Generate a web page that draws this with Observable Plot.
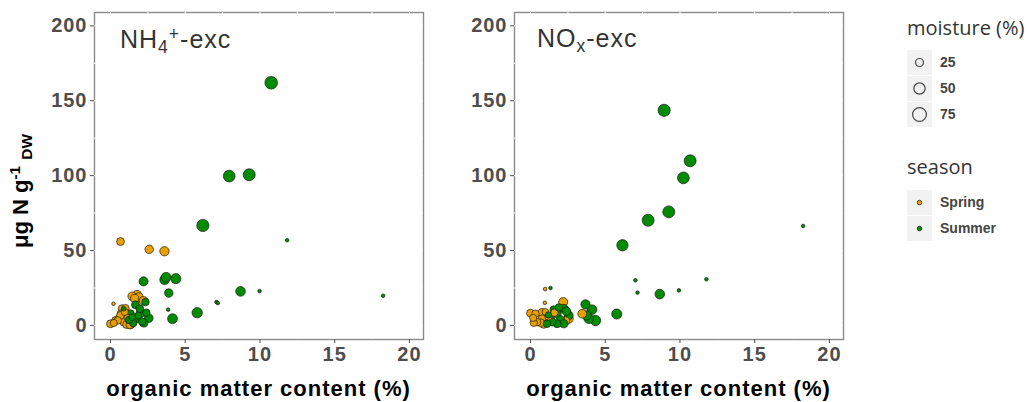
<!DOCTYPE html>
<html>
<head>
<meta charset="utf-8">
<script src="https://cdn.jsdelivr.net/npm/d3@7"></script>
<script src="https://cdn.jsdelivr.net/npm/@observablehq/plot@0.6"></script>
<style>
  html, body { margin: 0; padding: 0; background: #fff; }
  #wrap { position: relative; width: 1033px; height: 402px; overflow: hidden; }
  .abs { position: absolute; white-space: nowrap; line-height: 1; }
  .ptitle { font-family: 'Liberation Sans', Arial, sans-serif; font-size: 25px; color: #333; letter-spacing: 1px; }
  .ptitle sub { font-size: 0.7em; vertical-align: -0.28em; line-height: 0; }
  .ptitle sup { font-size: 0.7em; vertical-align: 0.45em; line-height: 0; }
  .xtitle { font-family: 'Liberation Sans', Arial, sans-serif; font-size: 22px; font-weight: bold; color: #000; letter-spacing: 1px; text-align: center; width: 420px; }
  .ytitle { font-family: 'Liberation Sans', Arial, sans-serif; font-size: 22px; font-weight: bold; color: #000; text-align: center; width: 220px; transform: rotate(-90deg); transform-origin: 50% 50%; }
  .ytitle sup { font-size: 0.7em; vertical-align: 0.5em; line-height: 0; }
  .ytitle sub { font-size: 0.7em; vertical-align: -0.25em; line-height: 0; }
  .legtitle { font-family: 'Open Sans', sans-serif; font-size: 20px; color: #333; }
  .key { position: absolute; width: 25px; height: 25px; background: #F2F2F2; }
  .key svg { display: block; }
  .keylab { position: absolute; font-family: 'Liberation Sans', Arial, sans-serif; font-size: 14px; font-weight: bold; color: #444; line-height: 25px; height: 25px; }
</style>
</head>
<body>
<div id="wrap"></div>
<script>
// ---------------- data ----------------
const seasons = ["Spring", "Summer"];
const seasonColors = ["#E9A100", "#008B00"];
const xTicks = [0, 5, 10, 15, 20];
const yTicks = [0, 50, 100, 150, 200];
const xGrid = [0, 2.5, 5, 7.5, 10, 12.5, 15, 17.5, 20];
const yGrid = [0, 25, 50, 75, 100, 125, 150, 175, 200];
const moistureKeys = [25, 50, 75];
const xLabel = "organic matter content (%)";

// NH4+-exc panel, Spring
const nh4SpringOM    = [0.67, 2.59, 3.61, 0.2, 1.45, 1.78, 1.62, 1.9, 2.2, 0.78, 0.71, 1.0, 0.0, 0.34, 0.56, 0.89, 1.34, 1.07, 0.49, 0.22, 0.67, 1.29, 0.95, 1.15];
const nh4SpringVal   = [56, 50.8, 49.5, 14.5, 19.5, 20.3, 18, 19, 16.5, 11.2, 7.8, 11.5, 1.1, 3.3, 4.5, 2.2, 0.2, 0.5, 3.3, 1.6, 6.7, 0.3, 9.0, 5.0];
const nh4SpringMoist = [24, 28, 34, 5, 28, 34, 26, 28, 26, 24, 24, 22, 24, 24, 24, 24, 22, 22, 22, 20, 24, 22, 20, 22];
// NH4+-exc panel, Summer
const nh4SummerOM    = [10.75, 7.94, 9.28, 6.18, 11.82, 2.21, 3.62, 3.72, 4.37, 3.9, 8.7, 9.97, 18.24, 7.09, 7.18, 3.86, 5.8, 4.15, 1.67, 2.34, 0.89, 1.34, 2.0, 2.56, 2.23, 1.52, 1.25, 1.78, 1.96, 2.12, 1.85, 1.45, 2.4];
const nh4SummerVal   = [162, 99.7, 100.6, 66.7, 56.9, 29.4, 30.5, 32.2, 31.2, 21.6, 22.7, 22.9, 19.8, 15.6, 14.9, 10.5, 8.5, 4.5, 13.8, 15.6, 11.1, 7.8, 8.0, 4.9, 1.6, 1.6, 3.7, 4.5, 11.1, 2.5, 6.5, 5.5, 8.5];
const nh4SummerMoist = [62, 54, 56, 58, 5, 32, 36, 36, 40, 28, 36, 5, 5, 5, 5, 5, 42, 38, 24, 22, 8, 24, 26, 30, 26, 22, 22, 24, 24, 22, 20, 18, 22];

// NOx-exc panel, Spring
const noxSpringOM    = [0.98, 0.96, 2.19, 3.46, 0.0, 0.33, 0.78, 0.18, 0.78, 0.89, 0.45, 0.22, 0.67, 2.56, 1.2, 1.0, 2.35, 1.6];
const noxSpringVal   = [24.3, 15.1, 15.6, 7.8, 8.2, 7.8, 8.5, 5.0, 4.5, 0.7, 2.2, 1.8, 1.8, 4.5, 6.0, 9.0, 3.0, 8.5];
const noxSpringMoist = [5, 5, 32, 30, 24, 22, 26, 20, 24, 24, 22, 22, 24, 32, 22, 18, 26, 22];
// NOx-exc panel, Summer
const noxSummerOM    = [8.94, 10.68, 10.23, 9.25, 7.87, 6.15, 18.24, 7.02, 11.77, 7.16, 8.65, 9.93, 5.77, 3.68, 4.12, 3.75, 3.9, 4.35, 1.34, 1.56, 2.23, 1.78, 2.56, 1.34, 1.11, 2.0, 1.78, 2.23, 1.45, 2.4, 1.9, 1.2];
const noxSummerVal   = [143.6, 109.9, 98.5, 75.8, 70.2, 53.5, 66.4, 30.1, 30.8, 21.9, 20.9, 23.4, 7.6, 14.0, 10.5, 6.7, 4.5, 3.3, 25.0, 10.5, 11.2, 7.8, 6.7, 4.5, 1.1, 3.8, 1.1, 1.1, 2.2, 9.5, 12.0, 7.0];
const noxSummerMoist = [58, 56, 54, 56, 56, 50, 5, 5, 5, 5, 36, 5, 40, 34, 36, 34, 36, 42, 5, 24, 30, 26, 30, 24, 22, 26, 24, 26, 24, 28, 22, 16];

// ---------------- build ----------------
function rows(om, val, moist, season) {
  return om.map((x, i) => ({om: x, val: val[i], moist: moist[i], season}));
}
const nh4Data = rows(nh4SpringOM, nh4SpringVal, nh4SpringMoist, "Spring")
  .concat(rows(nh4SummerOM, nh4SummerVal, nh4SummerMoist, "Summer"));
const noxData = rows(noxSpringOM, noxSpringVal, noxSpringMoist, "Spring")
  .concat(rows(noxSummerOM, noxSummerVal, noxSummerMoist, "Summer"));

const wrap = document.getElementById("wrap");

function makePanel(data, marginLeft, width) {
  return Plot.plot({
    width, height: 402,
    marginLeft, marginRight: 2, marginTop: 12, marginBottom: 63,
    x: {domain: [-1.07, 20.94]},
    y: {domain: [-9.4, 208.9]},
    r: {domain: [0, 100], range: [0, 8]},
    color: {domain: seasons, range: seasonColors},
    style: "font-family: 'Liberation Sans', Arial, sans-serif; font-size: 20px; font-weight: bold; letter-spacing: 1px; background: transparent; overflow: visible;",
    marks: [
      Plot.frame({stroke: "#8a8a8a", strokeWidth: 1.4}),
      Plot.ruleX(xGrid, {stroke: "white", strokeWidth: 1}),
      Plot.ruleY(yGrid, {stroke: "white", strokeWidth: 1}),
      Plot.axisX({ticks: xTicks, tickSize: 4, tickPadding: 3, color: "#4d4d4d", label: null}),
      Plot.axisY({ticks: yTicks, tickSize: 4, tickPadding: 3, color: "#4d4d4d", label: null}),
      Plot.dot(data, {x: "om", y: "val", r: "moist", fill: "season", stroke: "#1a1a1a", strokeWidth: 0.7})
    ]
  });
}

const p1 = makePanel(nh4Data, 94, 425);
p1.style.position = "absolute"; p1.style.left = "0px"; p1.style.top = "0px";
wrap.appendChild(p1);
const p2 = makePanel(noxData, 89, 420);
p2.style.position = "absolute"; p2.style.left = "425px"; p2.style.top = "0px";
wrap.appendChild(p2);

function addDiv(cls, html, left, top) {
  const d = document.createElement("div");
  d.className = "abs " + cls;
  d.innerHTML = html;
  d.style.left = left + "px";
  d.style.top = top + "px";
  wrap.appendChild(d);
  return d;
}

// panel titles
addDiv("ptitle", "NH<sub>4</sub><sup>+</sup>-exc", 120, 27);
addDiv("ptitle", "NO<sub>x</sub>-exc", 537, 26);
// x titles
addDiv("xtitle", xLabel, 258.5 - 210, 378);
addDiv("xtitle", xLabel, 678.5 - 210, 378);
// y title
addDiv("ytitle", "&mu;g N g<sup>-1</sup> <sub>DW</sub>", 21 - 110, 191 - 11);

// legend
const rScale = p1.scale("r");
addDiv("legtitle", "moisture (%)", 907, 18);
moistureKeys.forEach((v, i) => {
  const top = 50 + i * 26;
  const k = document.createElement("div");
  k.className = "key";
  k.style.left = "907px"; k.style.top = top + "px";
  const r = rScale.apply(v);
  k.innerHTML = `<svg width="25" height="25"><circle cx="12.5" cy="12.5" r="${r}" fill="none" stroke="#444" stroke-width="1.2"/></svg>`;
  wrap.appendChild(k);
  const l = document.createElement("div");
  l.className = "keylab"; l.textContent = String(v);
  l.style.left = "940px"; l.style.top = top + "px";
  wrap.appendChild(l);
});
addDiv("legtitle", "season", 907, 157);
const cScale = p1.scale("color");
seasons.forEach((s, i) => {
  const top = 190 + i * 26;
  const k = document.createElement("div");
  k.className = "key";
  k.style.left = "907px"; k.style.top = top + "px";
  k.innerHTML = `<svg width="25" height="25"><circle cx="12.5" cy="12.5" r="2.3" fill="${cScale.apply(s)}" stroke="#1a1a1a" stroke-width="0.7"/></svg>`;
  wrap.appendChild(k);
  const l = document.createElement("div");
  l.className = "keylab"; l.textContent = s;
  l.style.left = "940px"; l.style.top = top + "px";
  wrap.appendChild(l);
});
</script>
</body>
</html>
